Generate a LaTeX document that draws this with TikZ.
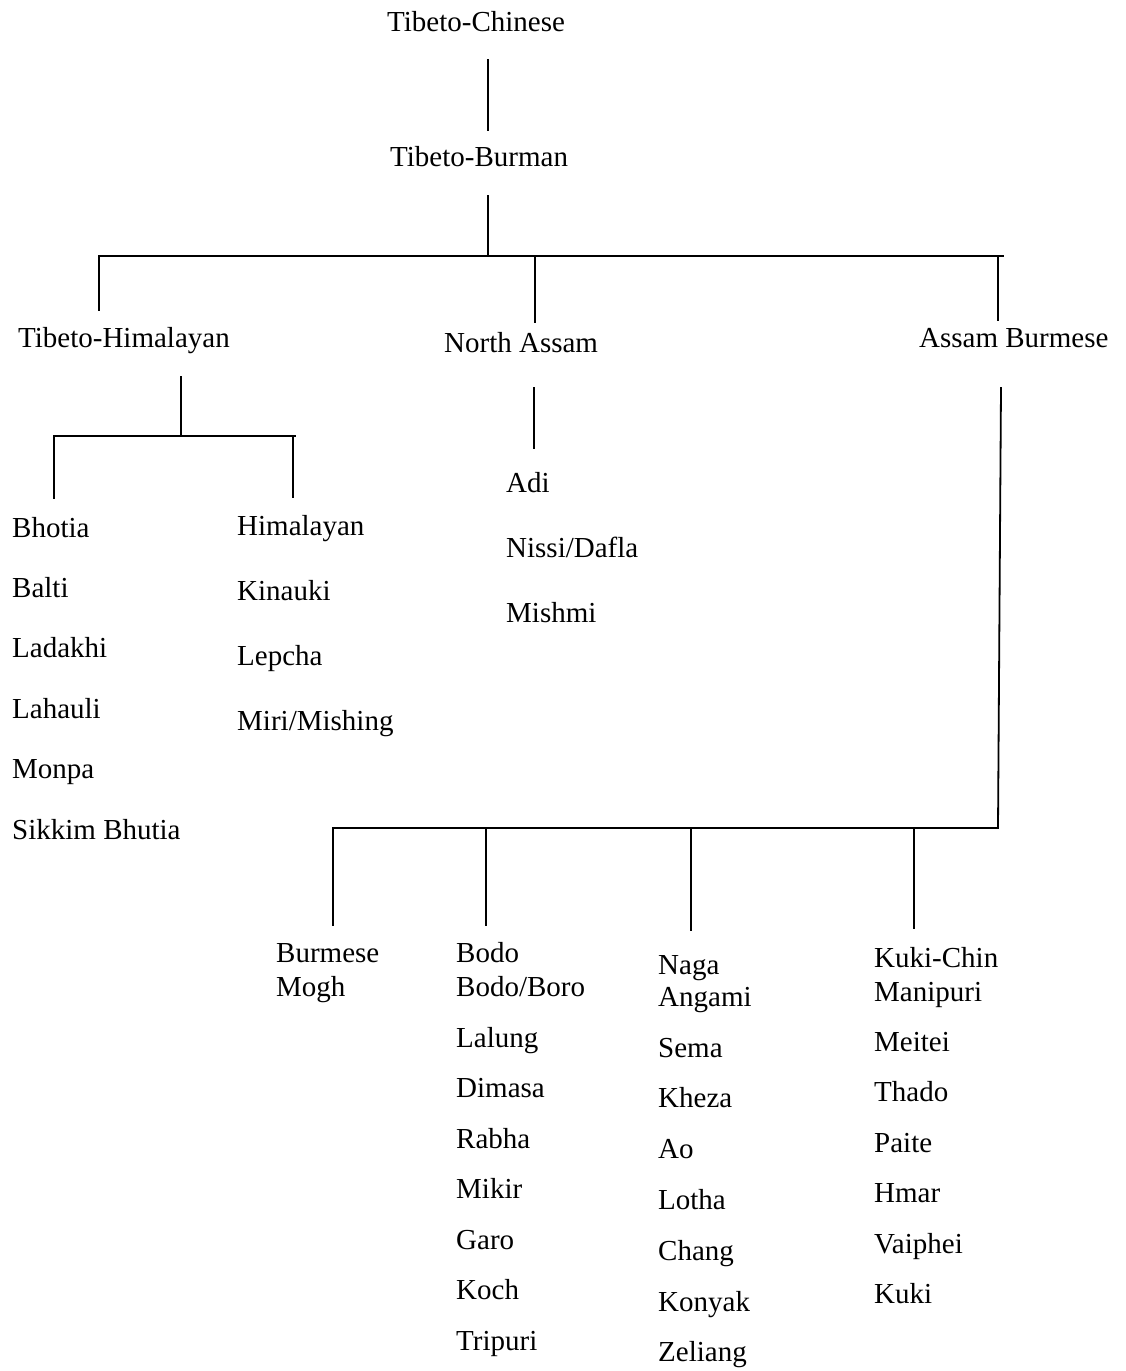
\documentclass[tikz,border=0pt]{standalone}
\usepackage{fontspec}
\setmainfont{Liberation Serif}
\begin{document}
\begin{tikzpicture}[x=1pt,y=-1pt,
  lang/.style={anchor=base west,inner sep=0pt,font=\fontsize{29}{35}\selectfont},
  branch/.style={line width=1.8pt,line cap=rect}]
\useasboundingbox[fill=white] (0,0) rectangle (1125,1371);

% --- labels ---
\node[lang] (tc) at (387,31.5) {Tibeto-Chinese};
\node[lang] (tb) at (390,166) {Tibeto-Burman};
\node[lang] (th) at (18,347) {Tibeto-Himalayan};
\node[lang] (na) at (444,352) {North Assam};
\node[lang] (ab) at (919,347) {Assam Burmese};

% Tibeto-Himalayan leaves
\foreach \t [count=\i from 0] in {Bhotia,Balti,Ladakhi,Lahauli,Monpa,Sikkim Bhutia}
  \node[lang] (bh\i) at (12,537+60.4*\i) {\t};
\foreach \t [count=\i from 0] in {Himalayan,Kinauki,Lepcha,Miri/Mishing}
  \node[lang] (hi\i) at (237,535+65*\i) {\t};

% North Assam leaves
\foreach \t [count=\i from 0] in {Adi,Nissi/Dafla,Mishmi}
  \node[lang] (nl\i) at (506,492+65*\i) {\t};

% Assam Burmese leaves
\node[lang] (bu0) at (276,962) {Burmese};
\node[lang] (bu1) at (276,996) {Mogh};

\node[lang] (bo0) at (456,962) {Bodo};
\node[lang] (bo1) at (456,996) {Bodo/Boro};
\foreach \t [count=\i from 0] in {Lalung,Dimasa,Rabha,Mikir,Garo,Koch,Tripuri}
  \node[lang] (bl\i) at (456,1047+50.5*\i) {\t};

\node[lang] (ng0) at (658,974) {Naga};
\node[lang] (ng1) at (658,1006) {Angami};
\foreach \t [count=\i from 0] in {Sema,Kheza,Ao,Lotha,Chang,Konyak,Zeliang}
  \node[lang] (gl\i) at (658,1057+50.8*\i) {\t};

\node[lang] (kc0) at (874,967) {Kuki-Chin};
\node[lang] (kc1) at (874,1001) {Manipuri};
\foreach \t [count=\i from 0] in {Meitei,Thado,Paite,Hmar,Vaiphei,Kuki}
  \node[lang] (kl\i) at (874,1051+50.5*\i) {\t};

% --- junction points ---
\coordinate (r1) at (488,60);   \coordinate (r2) at (488,130);
\coordinate (s1) at (488,196);  \coordinate (s2) at (488,256);
\coordinate (hL) at (99,256);   \coordinate (hR) at (1003,256);
\coordinate (dL) at (99,310);   \coordinate (mT) at (535,256);
\coordinate (mB) at (535,322);  \coordinate (rT) at (998,256);
\coordinate (rB) at (998,320);

\coordinate (t1) at (181,377);  \coordinate (t2) at (181,436);
\coordinate (tL) at (54,436);   \coordinate (tR) at (295,436);
\coordinate (tLb) at (54,498);  \coordinate (tRt) at (293,436);
\coordinate (tRb) at (293,497);

\coordinate (n1) at (534,388);  \coordinate (n2) at (534,448);

\coordinate (a1) at (1001,388); \coordinate (a2) at (998,828);
\coordinate (bL) at (333,828);
\coordinate (c1) at (333,925);  \coordinate (c2t) at (486,828);
\coordinate (c2) at (486,925);  \coordinate (c3t) at (691,830);
\coordinate (c3) at (691,930);  \coordinate (c4t) at (914,830);
\coordinate (c4) at (914,928);

% --- connectors ---
\draw[branch] (r1) -- (r2);
\draw[branch] (s1) -- (s2);
\draw[branch] (dL) -- (hL) -- (hR);
\draw[branch] (mT) -- (mB);
\draw[branch] (rT) -- (rB);

\draw[branch] (t1) -- (t2);
\draw[branch] (tLb) -- (tL) -- (tR);
\draw[branch] (tRt) -- (tRb);

\draw[branch] (n1) -- (n2);

\draw[branch] (a1) -- (a2) -- (bL) -- (c1);
\draw[branch] (c2t) -- (c2);
\draw[branch] (c3t) -- (c3);
\draw[branch] (c4t) -- (c4);
\end{tikzpicture}
\end{document}
